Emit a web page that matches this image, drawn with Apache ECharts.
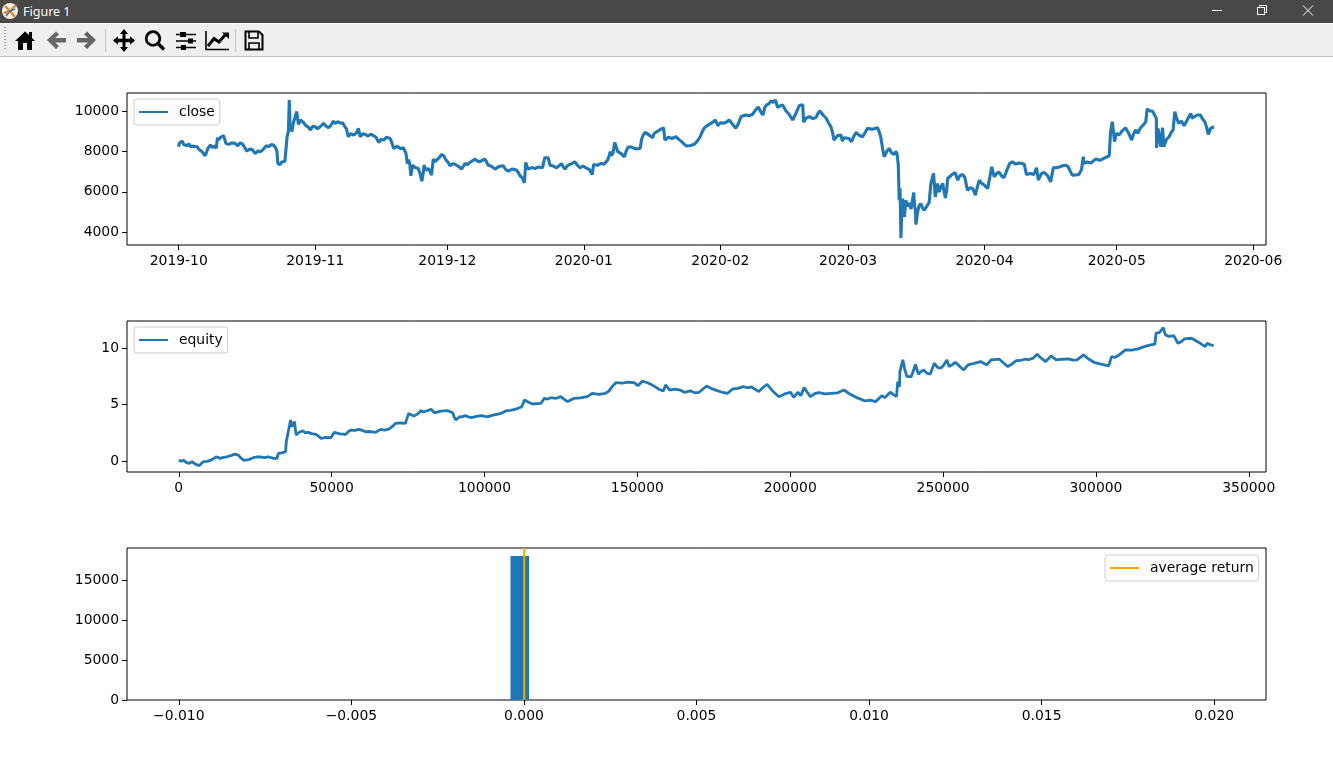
<!DOCTYPE html>
<html><head><meta charset="utf-8">
<script src="https://cdn.jsdelivr.net/npm/echarts@6/dist/echarts.min.js"></script>
<style>
html,body{margin:0;padding:0;background:#fff;width:1333px;height:768px;overflow:hidden}
#chart{position:absolute;left:0;top:0;width:1333px;height:768px}
#titlebar{position:absolute;left:0;top:0;width:1333px;height:23px;background:#4a4846;color:#fff;font:12.5px "Noto Sans","Open Sans",sans-serif;line-height:23px;z-index:2}
#titlebar span{position:absolute;left:23px;top:0}
#toolbar{position:absolute;left:0;top:24px;width:1333px;height:32px;background:#efefef;border-bottom:1px solid #bdbdbd;z-index:2}
svg.ov{position:absolute;left:0;top:0;z-index:3}
</style></head><body>
<div id="chart"></div>
<div id="titlebar"><span>Figure 1</span></div>
<div id="toolbar"></div>
<svg class="ov" width="1333" height="60" viewBox="0 0 1333 60">
  <circle cx="10" cy="11" r="8" fill="#f4efe6"/>
  <path d="M10 11L5 6M10 11L16 5M10 11L4 13M10 11L15 17" stroke="#e08a2c" stroke-width="2.4"/>
  <path d="M10 11L6 16M10 11L15 9" stroke="#2f7fb8" stroke-width="1.6"/>
  <g stroke="#fff" fill="none" stroke-width="1">
    <path d="M1212 10.5H1222"/>
    <rect x="1257.5" y="7.5" width="7" height="7" fill="#4a4846"/>
    <path d="M1259.5 7.5V5.5H1266.5V12.5H1264.5"/>
    <path d="M1303 5.5L1313 15.5M1313 5.5L1303 15.5"/>
  </g>
  <path d="M5 27V51" stroke="#aaa" stroke-width="2" stroke-dasharray="1 2"/>
  <path d="M105.5 29V52M235.5 29V52" stroke="#c4c4c4"/>
  <path d="M15 41L25 31.5L29 35V32H32V38L35 41H32V50H27V43H23V50H18V41Z" fill="#000"/>
  <path d="M47 40L56 31.5L59 34.5L55 38H66V42.5H55L59 46L56 49Z" fill="#666"/>
  <path d="M96 40L87 31.5L84 34.5L88 38H77V42.5H88L84 46L87 49Z" fill="#666"/>
  <path d="M124 29L128 34H125.5V38.7H130V36.3L135 40.5L130 44.7V42.3H125.5V47H128L124 52L120 47H122.5V42.3H118V44.7L113 40.5L118 36.3V38.7H122.5V34H120Z" fill="#000"/>
  <circle cx="153" cy="38.5" r="6.8" fill="none" stroke="#000" stroke-width="2.8"/>
  <path d="M158 43.5L164 49.5" stroke="#000" stroke-width="3.4"/>
  <g stroke="#000" stroke-width="1.6">
    <path d="M176 34.5H196M176 41H196M176 47.5H196"/>
  </g>
  <rect x="180" y="32" width="6" height="5" fill="#000"/><rect x="188" y="38.5" width="5" height="5" fill="#000"/><rect x="181" y="45" width="5" height="5" fill="#000"/>
  <path d="M206 31V49.5H229" fill="none" stroke="#000" stroke-width="1.6"/>
  <path d="M208 46L214 38.5L219 42L226 34" fill="none" stroke="#000" stroke-width="3"/>
  <path d="M222 32.5H229V39Z" fill="#000"/>
  <path d="M245.5 31.5H259L262.5 35V49.5H245.5Z" fill="none" stroke="#000" stroke-width="2"/>
  <path d="M249 32V38H258V32" fill="none" stroke="#000" stroke-width="1.6"/>
  <path d="M249 49V43H259V49" fill="none" stroke="#000" stroke-width="1.6"/>
</svg>
<script>
// x = days since 2019-10-01, y = BTC close
const closeSeries = [[0,8230],[.1,8400],[.2,8480],[.5,8350],[.8,8510],[1.1,8350],[1.4,8420],[1.9,8280],[2.3,8380],[2.6,8240],[3,8150],[3.4,8260],[3.8,8180],[4.2,8230],[4.5,8115],[4.9,8130],[5.3,7985],[5.7,7900],[6,7785],[6.3,7960],[6.6,8150],[6.9,8120],[7.2,8315],[7.6,8200],[7.9,8180],[8.2,8260],[8.5,8150],[8.8,8680],[9.1,8560],[9.4,8680],[9.8,8620],[10.2,8780],[10.5,8560],[10.7,8400],[11,8440],[11.3,8350],[12,8420],[12.4,8330],[12.8,8400],[13.1,8340],[13.4,8280],[13.9,8420],[14.4,8380],[14.9,8220],[15.5,8015],[16,8100],[16.6,8115],[17,8000],[17.4,7900],[18,8020],[18.5,7985],[19,8060],[19.4,7985],[19.9,8280],[20.5,8240],[21,8340],[21.5,8315],[22,8180],[22.3,8015],[22.5,7405],[23,7340],[23.4,7480],[23.8,7455],[24.1,7500],[24.4,7570],[24.6,8725],[24.9,8975],[25.1,10545],[25.3,9140],[25.5,9300],[25.7,8975],[25.9,9250],[26.1,9470],[26.4,9500],[26.8,9970],[27,9600],[27.2,9340],[27.6,9560],[28,9550],[28.4,9420],[28.7,9305],[29.1,9380],[29.5,9180],[29.9,9060],[30.4,9240],[31,9220],[31.5,9120],[32.1,9220],[32.5,9290],[32.9,9390],[33.4,9260],[34,9170],[34.6,9300],[35.1,9500],[35.5,9380],[36.1,9470],[36.7,9390],[37.2,9420],[37.6,9270],[38.1,9100],[38.5,8725],[39.1,8880],[39.7,8810],[40.3,8900],[40.8,9140],[41.2,8725],[41.8,8880],[42.3,8840],[43,8760],[43.6,8850],[44.2,8780],[44.8,8700],[45.4,8445],[46,8600],[46.5,8560],[47.2,8700],[48,8645],[48.4,8420],[48.8,8150],[49.6,8260],[50.4,8130],[51,8180],[51.6,7900],[51.9,7405],[52.2,7600],[52.5,7320],[52.7,6795],[53.1,7320],[53.7,7200],[54.4,7155],[54.8,6900],[55.2,6530],[55.5,6900],[55.7,7320],[56.2,7060],[56.7,7155],[57.1,7000],[57.4,6825],[57.8,7620],[58.2,7500],[58.6,7455],[59.2,7700],[59.7,7850],[60.2,7780],[60.7,7570],[61.2,7450],[61.6,7290],[62.3,7400],[63.1,7320],[63.7,7230],[64.2,7125],[64.7,7280],[65,7405],[65.6,7350],[66.1,7455],[66.7,7540],[67.3,7620],[67.9,7510],[68.4,7490],[69,7570],[69.5,7620],[69.9,7480],[70.3,7320],[71,7270],[71.8,7125],[72.7,7250],[73.7,7290],[74.2,7120],[74.8,7025],[75.7,7130],[76.7,7075],[77.1,6960],[77.5,6795],[78,6700],[78.5,6445],[78.8,7455],[79.1,7240],[79.4,7125],[80.1,7200],[80.9,7155],[81.7,7230],[82.6,7190],[83.1,7685],[83.5,7600],[83.9,7685],[84.3,7320],[85,7280],[85.8,7190],[86.4,7290],[86.9,7405],[87.3,7250],[87.7,7125],[88.2,7280],[88.8,7355],[89.4,7410],[89.9,7490],[90.5,7330],[91.1,7190],[91.8,7270],[92.5,7190],[93.2,7110],[93.9,6860],[94.2,7355],[95,7310],[95.9,7405],[96.6,7370],[97.4,7570],[97.7,7760],[98,7985],[98.3,7800],[98.6,7900],[99,8445],[99.3,8250],[99.7,7985],[100.4,7900],[101.2,7735],[101.6,8010],[102,8200],[102.4,8110],[102.7,8230],[103.7,8120],[104.8,8150],[105.1,8600],[105.5,8810],[105.9,8950],[106.3,8890],[107,8780],[107.6,8680],[108,8900],[108.4,8975],[109.2,9060],[110.1,9170],[110.4,8560],[111.2,8700],[112,8640],[112.9,8725],[113.7,8570],[114.4,8445],[114.9,8330],[115.4,8265],[116.2,8290],[117.1,8350],[117.8,8520],[118.4,8725],[118.9,8980],[119.4,9170],[119.9,9260],[120.3,9340],[121.1,9420],[121.9,9550],[122.4,9270],[123,9420],[123.7,9390],[124.4,9450],[125,9550],[125.8,9330],[126.5,9140],[127.1,9380],[127.7,9720],[128.2,9760],[128.8,9800],[129.5,9760],[130.3,9835],[131,10050],[131.6,10200],[132.2,9950],[132.7,9800],[133.1,10200],[133.5,10300],[134,10350],[134.5,10500],[135,10420],[135.5,10545],[136,10170],[136.5,10250],[137.1,10300],[137.9,10000],[138.6,9840],[139.4,9550],[140.1,9850],[140.9,10270],[141.3,10180],[141.7,10300],[141.9,9440],[142.5,9650],[143.2,9720],[144,9620],[144.7,9670],[145.2,9900],[145.6,10000],[146.3,9800],[147,9640],[147.6,9400],[148.1,9220],[148.5,8900],[148.8,8560],[149.6,8780],[150.4,8810],[150.7,8510],[151.1,8680],[151.5,8725],[152.2,8640],[152.8,8480],[153.3,8750],[153.8,8940],[154.5,8800],[155.3,8725],[155.9,8950],[156.4,9140],[157.5,9100],[158.7,9170],[159.1,8950],[159.4,8725],[159.8,8200],[160.2,7735],[160.8,8000],[161.3,8150],[161.9,7920],[162.4,7850],[162.8,8000],[163.1,7900],[163.4,7320],[163.6,5585],[163.8,6165],[164,3720],[164.2,5200],[164.4,5670],[164.6,5000],[164.8,4760],[165.1,5585],[165.5,5280],[165.9,5450],[166.3,5150],[166.7,5140],[166.9,5965],[167.1,5300],[167.3,5090],[167.4,4380],[167.8,5010],[168.1,5300],[168.5,5420],[168.9,5200],[169.3,5090],[169.9,5300],[170.4,5470],[170.8,6415],[171.1,6500],[171.4,6910],[171.8,5750],[172.1,6100],[172.3,6415],[172.7,6000],[173.1,6250],[173.5,6415],[173.8,6000],[174.1,5700],[174.4,6100],[174.6,6660],[175.4,6820],[176.3,6960],[176.9,6580],[177.4,6800],[178,6860],[178.5,6720],[178.9,6660],[179.1,6080],[179.7,6200],[180.3,6165],[180.9,5835],[181.3,6200],[181.8,6580],[182.2,6450],[182.5,6530],[183.1,6300],[183.7,6165],[184.2,6745],[184.6,7240],[185.2,6745],[185.7,6900],[186.2,6990],[186.8,6800],[187.4,6695],[188.1,7100],[188.7,7405],[189.3,7490],[190,7380],[191,7430],[192,7370],[192.5,6860],[193.4,6910],[194.2,6860],[194.8,7190],[195.2,6580],[195.9,6900],[196.5,6960],[197.3,6800],[198,6495],[198.6,7190],[199.6,7200],[200.7,7290],[201.4,7320],[202,7240],[202.5,7000],[202.9,6825],[203.7,6840],[204.4,6860],[205,7100],[205.4,7740],[205.6,7405],[206.3,7480],[207.2,7430],[208.2,7620],[209.2,7560],[210.3,7680],[211.3,7785],[211.6,8975],[212,9470],[212.5,8480],[212.9,8900],[213.5,8810],[214.2,9000],[215,9170],[215.7,8900],[216.4,8560],[216.8,8850],[217.3,9060],[217.8,8900],[218.4,9170],[219,9300],[219.6,9470],[219.9,10100],[220.5,10000],[221.1,10000],[221.6,9800],[222,9640],[222.05,8180],[222.4,9140],[223,8230],[223.4,9170],[223.7,8230],[224.3,8600],[224.9,8725],[225.4,8950],[225.8,9060],[226.2,9970],[226.6,9650],[227.1,9390],[227.7,9500],[228.3,9270],[229,9550],[229.8,9880],[230.1,9650],[230.5,9640],[231.3,9800],[232,9800],[232.5,9600],[233,9470],[233.4,9200],[233.8,8840],[234.3,9140],[234.7,9100],[235.1,9220]];
const equitySeries = [[0,.06],[800,-.02],[1620,.06],[2400,-.12],[3250,-.21],[4330,-.06],[5410,-.27],[6000,-.3],[6710,-.41],[7400,-.2],[8120,-.06],[9200,-.02],[10280,.06],[11200,.18],[12230,.38],[13530,.24],[14600,.32],[15690,.38],[17000,.48],[18390,.62],[19480,.53],[20400,.25],[21320,.06],[22800,.12],[24350,.30],[25400,.36],[26510,.38],[28130,.30],[29210,.38],[31050,.24],[32140,.24],[32570,.68],[33700,.72],[34950,.83],[35170,1.72],[35710,1.86],[36250,3.2],[36570,3.64],[37000,3.05],[37450,3.1],[37870,3.49],[38100,2.9],[38410,2.31],[39400,2.55],[40580,2.69],[41400,2.5],[42200,2.55],[43500,2.44],[44900,2.37],[45700,2.2],[46530,2.01],[48100,2.1],[49770,2.07],[50850,2.55],[52700,2.42],[54640,2.37],[55400,2.6],[56260,2.75],[57600,2.72],[58970,2.81],[60000,2.72],[61130,2.60],[62700,2.62],[64380,2.55],[66000,2.81],[67300,2.75],[68710,2.84],[69800,3.05],[70870,3.34],[72500,3.38],[74120,3.34],[75200,4.23],[76000,4.1],[76820,4.0],[78000,4.15],[79310,4.47],[80000,4.35],[80610,4.23],[81600,4.5],[82560,4.59],[83200,4.4],[83860,4.29],[85700,4.42],[87640,4.47],[88600,4.4],[89590,4.29],[90100,3.9],[90560,3.64],[91200,3.8],[91970,3.94],[92800,3.92],[93590,4.03],[94700,3.92],[95760,3.85],[97400,3.96],[99000,4.03],[100100,3.96],[101170,3.94],[102800,4.07],[104410,4.17],[105800,4.28],[107120,4.47],[108500,4.5],[109820,4.59],[111000,4.68],[112200,4.82],[113070,5.42],[114400,5.22],[115770,5.06],[117100,5.1],[118480,5.12],[119560,5.56],[120600,5.5],[121720,5.62],[123300,5.55],[124970,5.71],[126000,5.5],[127140,5.27],[128200,5.42],[129300,5.56],[131400,5.6],[133630,5.71],[135250,6.01],[137400,5.92],[139580,6.01],[140700,6.2],[141740,6.60],[143040,6.96],[145000,6.92],[146840,6.99],[148900,6.96],[150270,6.69],[151650,7.10],[153710,6.90],[155770,6.60],[157100,6.35],[158520,6.22],[159210,6.75],[160580,6.30],[162300,6.38],[164010,6.30],[165390,6.10],[167450,6.22],[168800,6.05],[170200,6.10],[172670,6.66],[174500,6.4],[176380,6.22],[178000,6.08],[179540,6.01],[181190,6.39],[182900,6.45],[184620,6.60],[186000,6.5],[187370,6.57],[189710,6.16],[191000,6.5],[192460,6.81],[194240,6.22],[196300,5.71],[198200,5.95],[200150,6.10],[201110,5.65],[202490,6.10],[203450,5.80],[204550,6.51],[205600,6.1],[206610,5.71],[208000,5.98],[209360,6.07],[211400,5.95],[213480,6.01],[215500,6.05],[217600,6.30],[219660,5.92],[222000,5.6],[224470,5.33],[226200,5.4],[227910,5.27],[229970,5.80],[230930,5.62],[232710,6.10],[234780,5.71],[235190,7.04],[235740,6.60],[235880,7.93],[236840,8.97],[237500,8.1],[238210,7.49],[239590,7.49],[240300,8.0],[240960,8.58],[241920,7.70],[242800,7.95],[243710,8.08],[244700,7.8],[245770,7.70],[247140,8.67],[248200,8.3],[249200,8.23],[250200,8.5],[251260,8.97],[251950,8.38],[253000,8.55],[254010,8.76],[255400,8.4],[256760,8.08],[258130,8.52],[260200,8.66],[262260,8.82],[264320,8.52],[265690,8.97],[268440,9.03],[269800,8.7],[271190,8.38],[272500,8.6],[273930,8.91],[275300,8.92],[276680,9.03],[278000,9.0],[279430,9.12],[280800,9.47],[282200,9.1],[283550,8.82],[285340,9.32],[286990,8.97],[289000,9.03],[291110,9.06],[292500,8.95],[293860,8.97],[295920,9.41],[297600,9.05],[299350,8.76],[301700,8.6],[304160,8.44],[305130,9.26],[306300,9.2],[307600,9.41],[309660,9.86],[311700,9.84],[313780,9.95],[315840,10.15],[317900,10.30],[319270,10.36],[319680,11.34],[320800,11.4],[322020,11.84],[322710,11.19],[324000,11.05],[325460,11.13],[326830,10.45],[328000,10.6],[328890,10.83],[331230,10.89],[333500,10.55],[335760,10.15],[336450,10.45],[337500,10.3],[338510,10.24]];
// histogram bins: [from, to, count]
const histBins = [[-0.00039,0.00015,18000]];
const averageReturn = 0.00001;

const monthTicks = [0,31,61,92,123,152,183,213,244];
const monthLabels = ['2019-10','2019-11','2019-12','2020-01','2020-02','2020-03','2020-04','2020-05','2020-06'];
const closeTicks = [4000,6000,8000,10000];
const equityXTicks = [0,50000,100000,150000,200000,250000,300000,350000];
const equityYTicks = [0,5,10];
const histXTicks = [-0.01,-0.005,0,0.005,0.01,0.015,0.02];
const histXLabels = ['\u22120.010','\u22120.005','0.000','0.005','0.010','0.015','0.020'];
const histYTicks = [0,5000,10000,15000];

const BLUE='#1f77b4', FS=13.9, FF='"DejaVu Sans"';
function xAx(gridIndex,min,max,ticks,fmt){return {type:'value',gridIndex,min,max,
  axisLine:{show:false,onZero:false},splitLine:{show:false},
  axisTick:{show:true,customValues:ticks,length:5,lineStyle:{color:'#000',width:1}},
  axisLabel:{show:true,customValues:ticks,margin:9,color:'#000',fontSize:FS,fontFamily:FF,formatter:fmt}};}
function yAx(gridIndex,min,max,ticks){return {type:'value',gridIndex,min,max,
  axisLine:{show:false,onZero:false},splitLine:{show:false},
  axisTick:{show:true,customValues:ticks,length:5,lineStyle:{color:'#000',width:1}},
  axisLabel:{show:true,customValues:ticks,margin:8,padding:[3,0,0,0],color:'#000',fontSize:FS,fontFamily:FF,formatter:v=>String(v)}};}
function gridBox(top,height){return {show:true,left:127,top,width:1139,height,borderColor:'#000',borderWidth:1,backgroundColor:'#fff'};}
function leg(pos,name){return Object.assign({data:[name],orient:'horizontal',selectedMode:false,itemWidth:29,itemHeight:14,
  padding:[6,5,6,4],backgroundColor:'rgba(255,255,255,0.8)',borderColor:'#ccc',borderWidth:1,borderRadius:3,
  itemStyle:{opacity:0},lineStyle:{width:2},textStyle:{color:'#000',fontSize:FS,fontFamily:FF,padding:[0,0,0,6]}},pos);}

const chart = echarts.init(document.getElementById('chart'));
chart.setOption({
  animation:false,
  backgroundColor:'#fff',
  grid:[gridBox(93,152),gridBox(321,151),gridBox(548,152)],
  xAxis:[
    xAx(0,-11.75,246.9,monthTicks,v=>monthLabels[monthTicks.indexOf(v)]),
    xAx(1,-16935,355635,equityXTicks,v=>String(v)),
    xAx(2,-0.0115,0.0215,histXTicks,v=>histXLabels[histXTicks.indexOf(v)])
  ],
  yAxis:[yAx(0,3373,10888,closeTicks),yAx(1,-0.97,12.42,equityYTicks),yAx(2,0,19000,histYTicks)],
  legend:[leg({left:134,top:99},'close'),leg({left:134,top:327},'equity'),leg({left:1105,top:555},'average return')],
  series:[
    {name:'close',type:'line',xAxisIndex:0,yAxisIndex:0,data:closeSeries,symbol:'none',lineStyle:{color:BLUE,width:3.1},itemStyle:{color:BLUE},silent:true},
    {name:'equity',type:'line',xAxisIndex:1,yAxisIndex:1,data:equitySeries,symbol:'none',lineStyle:{color:BLUE,width:2.8},itemStyle:{color:BLUE},silent:true},
    {name:'returns',type:'custom',xAxisIndex:2,yAxisIndex:2,data:histBins,silent:true,encode:{x:[0,1],y:2},
      renderItem:(p,api)=>{const a=api.coord([api.value(0),api.value(2)]),b=api.coord([api.value(1),0]);
        return {type:'rect',shape:{x:a[0],y:a[1],width:b[0]-a[0],height:b[1]-a[1]},style:{fill:BLUE}};}},
    {name:'average return',type:'line',xAxisIndex:2,yAxisIndex:2,data:[[averageReturn,0],[averageReturn,19000]],symbol:'none',lineStyle:{color:'#ffa500',width:2},itemStyle:{color:'#ffa500'},silent:true,z:5}
  ]
});
</script>
</body></html>
